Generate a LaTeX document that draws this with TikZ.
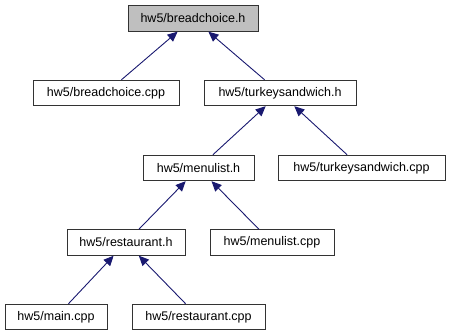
\documentclass[tikz,border=0pt]{standalone}
\usepackage{fontspec}
\setmainfont{Liberation Sans}
\usetikzlibrary{arrows.meta}
\definecolor{edgeblue}{HTML}{191970}
\definecolor{rootgray}{HTML}{BFBFBF}
\def\filenode{\node[file]}
\def\drawinc{\draw[incl]}

\begin{document}
\begin{tikzpicture}[x=1pt,y=-1pt,inner sep=0pt,
  file/.style={draw=black!80,line width=0.9pt,fill=white,minimum height=25.5pt,
    font=\fontsize{12.5}{14}\selectfont},
  incl/.style={edgeblue,line width=0.9pt,-{Triangle[length=10pt,width=9pt]}}]
\useasboundingbox (0,0) rectangle (449,336);

% ---------- the header at the top
\filenode[fill=rootgray,minimum width=130pt] (bh) at (193,18.5) {hw5/breadchoice.h};

% ---------- first row
\filenode[minimum width=146pt] (bcpp) at (106,93) {hw5/breadchoice.cpp};
\filenode[minimum width=152pt] (tsh) at (280,93) {hw5/turkeysandwich.h};

% ---------- second row
\filenode[minimum width=111pt] (mlh) at (198.5,168) {hw5/menulist.h};
\filenode[minimum width=167pt] (tscpp) at (361.5,168) {hw5/turkeysandwich.cpp};

% ---------- third row
\filenode[minimum width=118pt] (rh) at (126,242.5) {hw5/restaurant.h};
\filenode[minimum width=124pt] (mlcpp) at (272,242.5) {hw5/menulist.cpp};

% ---------- bottom row
\filenode[minimum width=102pt] (maincpp) at (56,317) {hw5/main.cpp};
\filenode[minimum width=133pt] (rcpp) at (198.5,317) {hw5/restaurant.cpp};

% includes, drawn from the including file up to the header
\drawinc (bcpp) -- (bh);
\drawinc (tsh) -- (bh);
\drawinc (mlh) -- (tsh);
\drawinc (tscpp) -- (tsh);
\drawinc (rh) -- (mlh);
\drawinc (mlcpp) -- (mlh);
\drawinc (maincpp) -- (rh);
\drawinc (rcpp) -- (rh);
\end{tikzpicture}
\end{document}
